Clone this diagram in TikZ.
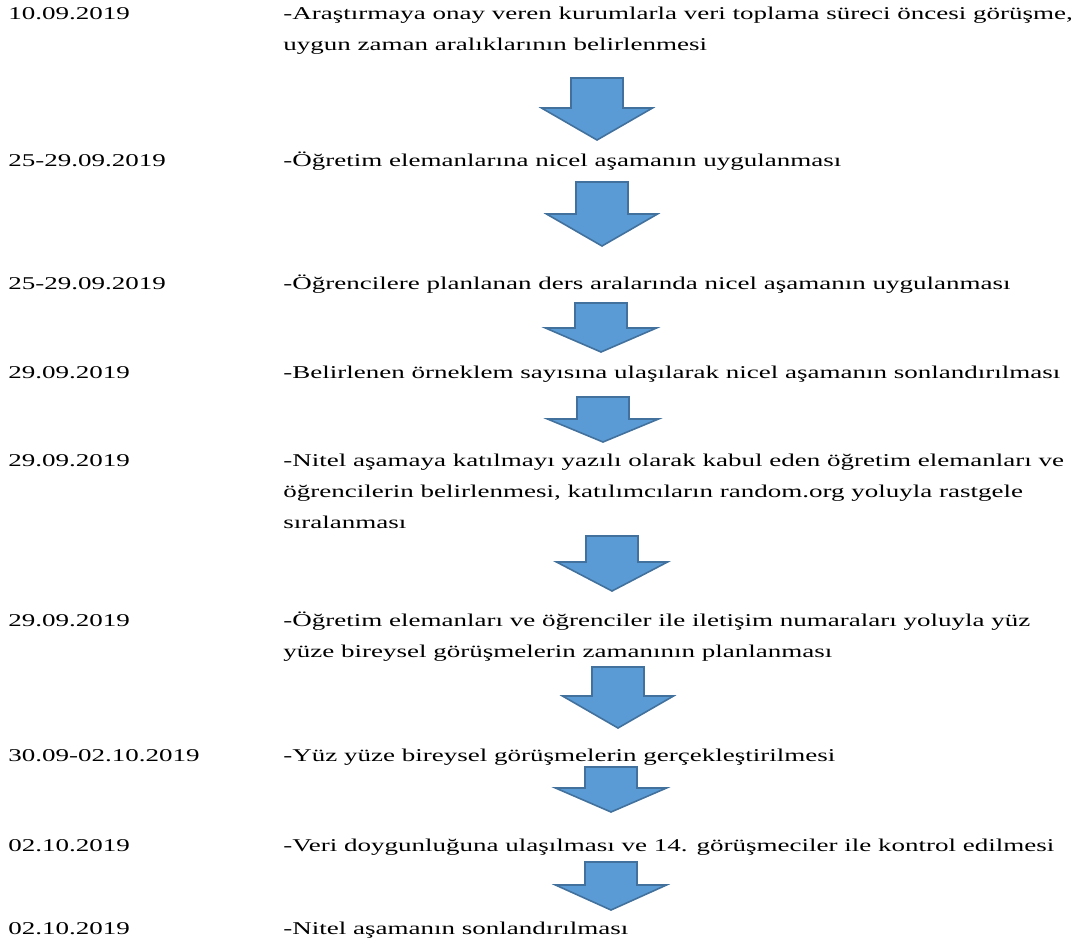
\documentclass[tikz,border=0pt]{standalone}
\usepackage{fontspec}
\setmainfont[FakeStretch=1.50]{Liberation Serif}
\usepackage{tikz}

\definecolor{arrowfill}{HTML}{5B9BD5}
\definecolor{arrowline}{HTML}{41719C}

\tikzset{
    date/.style={anchor=base west, inner sep=0pt},
    desc/.style={anchor=base west, inner sep=0pt, align=left},
    flowarrow/.style={fill=arrowfill, draw=arrowline, line width=0.8pt, line join=miter}
}

% block arrow: centre x, top, neck, tip
\newcommand{\flowarrow}[4]{%
    \filldraw[flowarrow] ({#1-26},#2) -- ({#1+26},#2) -- ({#1+26},#3) -- ({#1+55.5},#3)
    -- (#1,#4) -- ({#1-55.5},#3) -- ({#1-26},#3) -- cycle;}

\begin{document}
\begin{tikzpicture}[x=0.5pt, y=-0.5pt, font=\fontsize{9.0}{15.5}\selectfont]

    \useasboundingbox (0,0) rectangle (1082,944);

    % multi-line texts are placed by the baseline of their last line
    \node[date] (d1) at (8,19) {10.09.2019};
    \node[desc] (t1) at (283,50) {-Araştırmaya onay veren kurumlarla veri toplama süreci öncesi görüşme,\\uygun zaman aralıklarının belirlenmesi};
    \flowarrow{597}{78}{108}{140}

    \node[date] (d2) at (8,166) {25-29.09.2019};
    \node[desc] (t2) at (283,166) {-Öğretim elemanlarına nicel aşamanın uygulanması};
    \flowarrow{602}{182}{214}{246}

    \node[date] (d3) at (8,289) {25-29.09.2019};
    \node[desc] (t3) at (283,289) {-Öğrencilere planlanan ders aralarında nicel aşamanın uygulanması};
    \flowarrow{601}{303}{328}{352}

    \node[date] (d4) at (8,378) {29.09.2019};
    \node[desc] (t4) at (283,378) {-Belirlenen örneklem sayısına ulaşılarak nicel aşamanın sonlandırılması};
    \flowarrow{603}{397}{419}{442}

    \node[date] (d5) at (8,466) {29.09.2019};
    \node[desc] (t5) at (283,528) {-Nitel aşamaya katılmayı yazılı olarak kabul eden öğretim elemanları ve\\öğrencilerin belirlenmesi, katılımcıların random.org yoluyla rastgele\\sıralanması};
    \flowarrow{612}{536}{562}{591}

    \node[date] (d6) at (8,626) {29.09.2019};
    \node[desc] (t6) at (283,657) {-Öğretim elemanları ve öğrenciler ile iletişim numaraları yoluyla yüz\\yüze bireysel görüşmelerin zamanının planlanması};
    \flowarrow{618}{667}{696}{728}

    \node[date] (d7) at (8,761) {30.09-02.10.2019};
    \node[desc] (t7) at (283,761) {-Yüz yüze bireysel görüşmelerin gerçekleştirilmesi};
    \flowarrow{611}{767}{788}{812}

    \node[date] (d8) at (8,851) {02.10.2019};
    \node[desc] (t8) at (283,851) {-Veri doygunluğuna ulaşılması ve 14. görüşmeciler ile kontrol edilmesi};
    \flowarrow{611}{862}{885}{910}

    \node[date] (d9) at (8,934) {02.10.2019};
    \node[desc] (t9) at (283,934) {-Nitel aşamanın sonlandırılması};

\end{tikzpicture}
\end{document}
